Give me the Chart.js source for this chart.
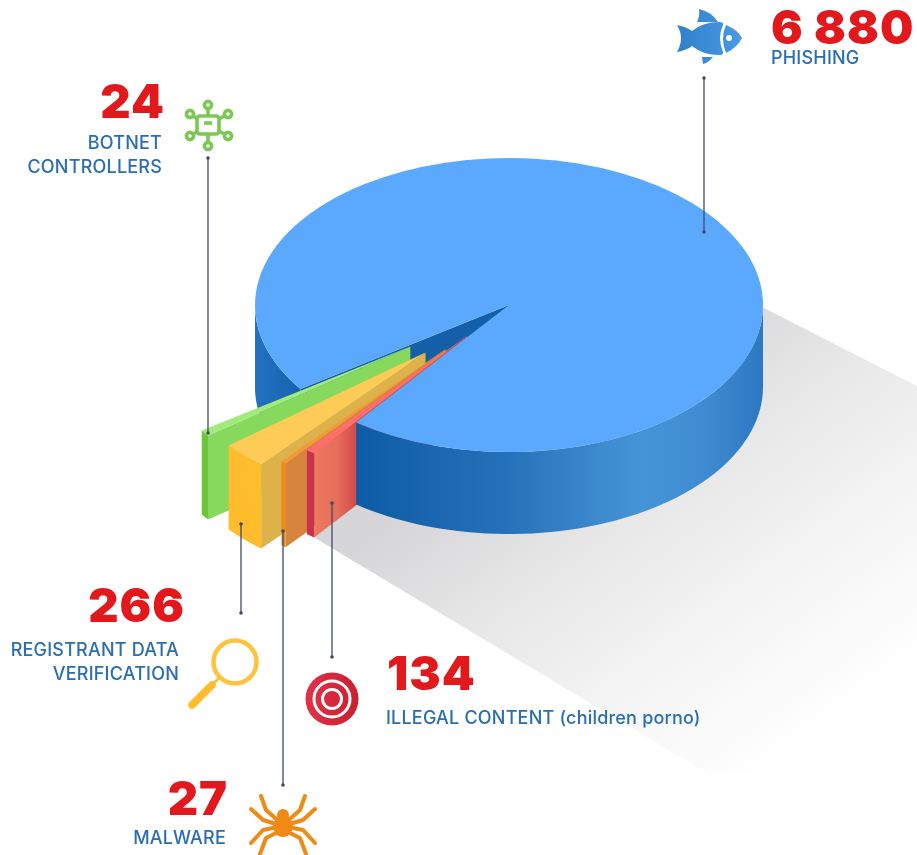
<!DOCTYPE html>
<html>
<head>
<meta charset="utf-8">
<title>Abuse reports</title>
<script src="https://cdn.jsdelivr.net/npm/chart.js@4/dist/chart.umd.js"></script>
<style>
    html, body { margin: 0; padding: 0; background: #fff; }
    canvas { display: block; }
</style>
</head>
<body>
<canvas id="pie" width="917" height="855"></canvas>
<script>
// Numbers printed in the picture
const categories = ['PHISHING', 'ILLEGAL CONTENT (children porno)', 'MALWARE', 'REGISTRANT DATA VERIFICATION', 'BOTNET CONTROLLERS'];
const counts = [6880, 134, 27, 266, 24];
const countLabels = ['6 880', '134', '27', '266', '24'];

// Slices as they are drawn: the wedges are not to scale, so sweeps are read off the picture (degrees)
const sliceNames = ['phishing', 'illegal', 'malware', 'registrant', 'gap', 'botnet'];
const sliceSweep = [341.8, 2.1, 1.2, 10.5, 2.0, 2.4];
const sliceLift = [0, 68, 99, 117, 0, 122];
const topColors = ['#5aa9ff', '#ff6d6d', '#f39a36', '#ffcb57', 'rgba(0,0,0,0)', '#a2ea7a'];

// Look of the tilted pie
const CX = 509, CY = 305, R = 254, TILT = 0.579, DEPTH = 82, WEDGE_DEPTH = 84;

// point on the tilted plane
function topPoint(x, y, r, angle) {
    return [x + r * Math.cos(angle), y + r * Math.sin(angle) * TILT];
}

// Wall under a piece of outer rim
function rimWall(ctx, x, y, a0, a1, fill, depth) {
    ctx.beginPath();
    const steps = 60;
    for (let i = 0; i <= steps; i++) {
        const p = topPoint(x, y, R, a0 + (a1 - a0) * i / steps);
        if (i === 0) ctx.moveTo(p[0], p[1]); else ctx.lineTo(p[0], p[1]);
    }
    for (let i = steps; i >= 0; i--) {
        const p = topPoint(x, y, R, a0 + (a1 - a0) * i / steps);
        ctx.lineTo(p[0], p[1] + depth);
    }
    ctx.closePath();
    ctx.fillStyle = fill;
    ctx.fill();
}

// Wall under the straight edge from the apex to the rim
function edgeWall(ctx, x, y, angle, fill, depth) {
    const p = topPoint(x, y, R, angle);
    ctx.beginPath();
    ctx.moveTo(x, y);
    ctx.lineTo(p[0], p[1]);
    ctx.lineTo(p[0], p[1] + depth);
    ctx.lineTo(x, y + depth);
    ctx.closePath();
    ctx.fillStyle = fill;
    ctx.fill();
}

function hGradient(ctx, x0, x1, stops) {
    const g = ctx.createLinearGradient(x0, 0, x1, 0);
    stops.forEach(s => g.addColorStop(s[0], s[1]));
    return g;
}

function drawShadow(ctx) {
    const g = ctx.createLinearGradient(560, 400, 840, 780);
    g.addColorStop(0, '#d6d6d8');
    g.addColorStop(0.3, '#e8e8e9');
    g.addColorStop(0.6, '#f5f5f6');
    g.addColorStop(0.9, '#ffffff');
    ctx.beginPath();
    ctx.moveTo(760, 306);
    ctx.lineTo(917, 386);
    ctx.lineTo(917, 770);
    ctx.lineTo(710, 775);
    ctx.lineTo(310, 535);
    ctx.lineTo(360, 500);
    ctx.closePath();
    ctx.fillStyle = g;
    ctx.fill();
}

// Extrusion of the pie, taken from the arcs the library laid out
const wallsPlugin = {
    id: 'walls',
    afterDatasetsUpdate(chart) {
        // pull the wedges out along their middle. The offset option would also narrow thin slices
        chart.getDatasetMeta(0).data.forEach((arc, i) => {
            const mid = (arc.startAngle + arc.endAngle) / 2;
            arc.x += sliceLift[i] * Math.cos(mid);
            arc.y += sliceLift[i] * Math.sin(mid);
        });
    },
    beforeDatasetsDraw(chart) {
        const ctx = chart.ctx;
        const arcs = chart.getDatasetMeta(0).data;
        drawShadow(ctx);

        const x = arcs[0].x;
        // left rim and inside of the notch
        const blueStart = arcs[0].startAngle;
        rimWall(ctx, x, CY, blueStart, Math.PI, hGradient(ctx, 255, 305, [[0, '#2272c2'], [1, '#1561ab']]), DEPTH);
        edgeWall(ctx, x, CY, blueStart, '#155fa9', DEPTH);

        const wallColors = {
            botnet: ['#6cc537', '#86d95c'],
            registrant: ['#ffbc2c', '#ddb24a'],
            malware: ['#f08a1e', '#d6843e'],
            illegal: ['#c8334a', hGradient(ctx, 313, 357, [[0, '#ee7a60'], [0.55, '#e66e5a'], [1, '#d0484c']])]
        };
        ['botnet', 'registrant', 'malware', 'illegal'].forEach(name => {
            const a = arcs[sliceNames.indexOf(name)];
            const apexY = CY + (a.y - CY) * TILT;
            edgeWall(ctx, a.x, apexY, a.startAngle, wallColors[name][1], WEDGE_DEPTH);
            rimWall(ctx, a.x, apexY, a.startAngle, a.endAngle, wallColors[name][0], WEDGE_DEPTH);
        });

        // front of the cylinder goes over the wedge walls
        rimWall(ctx, x, CY, 0, arcs[1].startAngle - Math.PI * 2, hGradient(ctx, 357, 763, [
            [0, '#0e5ba6'], [0.35, '#2470b8'], [0.7, '#4694d8'], [0.85, '#3f8cd2'], [1, '#2c79c2']
        ]), DEPTH);

        // squash the slices onto the tilted plane
        ctx.save();
        ctx.translate(0, CY);
        ctx.scale(1, TILT);
        ctx.translate(0, -CY);
    },
    afterDatasetsDraw(chart) {
        chart.ctx.restore();
    }
};

// Callouts
const leaderLines = [
    [704, 78, 232],
    [208, 158, 433],
    [241, 524, 613],
    [283, 531, 785],
    [332, 503, 657]
];
const numberLabels = [
    [countLabels[0], 771, 44, 'left'],
    [countLabels[4], 165, 118, 'right'],
    [countLabels[3], 185, 622, 'right'],
    [countLabels[2], 228, 815, 'right'],
    [countLabels[1], 387, 690, 'left']
];
const captionLabels = [
    ['PHISHING', 771, 64, 'left'],
    ['BOTNET', 162, 149, 'right'],
    ['CONTROLLERS', 162, 173, 'right'],
    ['REGISTRANT DATA', 179, 656, 'right'],
    ['VERIFICATION', 179, 680, 'right'],
    ['MALWARE', 226, 844, 'right'],
    ['ILLEGAL CONTENT (children porno)', 386, 724, 'left']
];

function drawFish(ctx) {
    const g = ctx.createLinearGradient(677, 0, 742, 0);
    g.addColorStop(0, '#2f7fcb');
    g.addColorStop(1, '#4a9be2');
    ctx.fillStyle = g;
    // tail and body
    ctx.beginPath();
    ctx.moveTo(677, 25);
    ctx.quadraticCurveTo(687, 27, 692, 31);
    ctx.quadraticCurveTo(703, 22, 719, 22);
    ctx.quadraticCurveTo(724, 22, 723, 25);
    ctx.quadraticCurveTo(717, 38, 723, 52);
    ctx.quadraticCurveTo(724, 55, 719, 55);
    ctx.quadraticCurveTo(703, 55, 692, 46);
    ctx.quadraticCurveTo(687, 50, 677, 52);
    ctx.quadraticCurveTo(685, 38, 677, 25);
    ctx.fill();
    // head
    ctx.beginPath();
    ctx.moveTo(726, 25);
    ctx.quadraticCurveTo(738, 30, 742, 38);
    ctx.quadraticCurveTo(738, 47, 726, 53);
    ctx.quadraticCurveTo(720, 38, 726, 25);
    ctx.fill();
    // fins
    ctx.beginPath();
    ctx.moveTo(699, 9);
    ctx.quadraticCurveTo(712, 12, 718, 22);
    ctx.lineTo(697, 22);
    ctx.quadraticCurveTo(700, 16, 699, 9);
    ctx.fill();
    ctx.beginPath();
    ctx.moveTo(702, 57);
    ctx.lineTo(713, 57);
    ctx.quadraticCurveTo(708, 63, 703, 64);
    ctx.closePath();
    ctx.fill();
    ctx.beginPath();
    ctx.arc(729, 38, 3, 0, Math.PI * 2);
    ctx.fillStyle = '#fff';
    ctx.fill();
}

function drawChip(ctx) {
    const x = 208, y = 125;
    ctx.strokeStyle = '#7cc855';
    ctx.lineWidth = 3.6;
    const nodes = [[0, -20], [0, 21], [-18, -11], [20, -11], [-18, 11], [20, 11]];
    nodes.forEach(n => {
        ctx.beginPath();
        ctx.moveTo(x, y);
        ctx.lineTo(x + n[0], y + n[1]);
        ctx.stroke();
    });
    ctx.fillStyle = '#fff';
    ctx.beginPath();
    ctx.roundRect(x - 11, y - 9, 22, 18, 3);
    ctx.fill();
    ctx.stroke();
    ctx.beginPath();
    ctx.moveTo(x - 4, y - 2);
    ctx.lineTo(x + 4, y - 2);
    ctx.stroke();
    nodes.forEach(n => {
        ctx.beginPath();
        ctx.arc(x + n[0], y + n[1], 3.6, 0, Math.PI * 2);
        ctx.fillStyle = '#fff';
        ctx.fill();
        ctx.stroke();
    });
}

function drawMagnifier(ctx) {
    ctx.strokeStyle = '#fcc43e';
    ctx.lineWidth = 4.5;
    ctx.beginPath();
    ctx.arc(235, 662, 21.5, 0, Math.PI * 2);
    ctx.stroke();
    ctx.lineWidth = 3;
    ctx.beginPath();
    ctx.moveTo(219, 678);
    ctx.lineTo(212, 685);
    ctx.stroke();
    ctx.lineCap = 'round';
    ctx.strokeStyle = '#ffbc2c';
    ctx.lineWidth = 7.5;
    ctx.beginPath();
    ctx.moveTo(212, 685);
    ctx.lineTo(192, 705);
    ctx.stroke();
    ctx.lineCap = 'butt';
}

function drawTarget(ctx) {
    const x = 332, y = 699;
    const g = ctx.createLinearGradient(x - 26, 0, x + 26, 0);
    g.addColorStop(0, '#e53048');
    g.addColorStop(1, '#c9202f');
    ctx.fillStyle = g;
    ctx.beginPath();
    ctx.arc(x, y, 26.5, 0, Math.PI * 2);
    ctx.fill();
    ctx.strokeStyle = '#fff';
    ctx.lineWidth = 3;
    [18, 9.5].forEach(r => {
        ctx.beginPath();
        ctx.arc(x, y, r, 0, Math.PI * 2);
        ctx.stroke();
    });
}

function drawSpider(ctx) {
    const x = 283;
    ctx.strokeStyle = '#f08a14';
    ctx.fillStyle = '#f08a14';
    ctx.lineWidth = 4;
    ctx.lineCap = 'round';
    ctx.lineJoin = 'round';
    const legs = [
        [[-8, 818], [-17, 810], [-22, 796]],
        [[-10, 823], [-20, 820], [-32, 809]],
        [[-10, 828], [-20, 830], [-32, 843]],
        [[-7, 833], [-17, 838], [-23, 854]]
    ];
    [-1, 1].forEach(side => {
        legs.forEach(leg => {
            ctx.beginPath();
            leg.forEach((p, i) => {
                const px = x - side * p[0];
                if (i === 0) ctx.moveTo(px, p[1]); else ctx.lineTo(px, p[1]);
            });
            ctx.stroke();
        });
    });
    ctx.beginPath();
    ctx.ellipse(x, 826, 10, 11, 0, 0, Math.PI * 2);
    ctx.fill();
    ctx.beginPath();
    ctx.arc(x, 815, 6, 0, Math.PI * 2);
    ctx.fill();
    ctx.lineCap = 'butt';
}

const calloutsPlugin = {
    id: 'callouts',
    afterDraw(chart) {
        const ctx = chart.ctx;
        ctx.save();
        leaderLines.forEach(l => {
            ctx.strokeStyle = '#414b68';
            ctx.lineWidth = 1.3;
            ctx.beginPath();
            ctx.moveTo(l[0], l[1]);
            ctx.lineTo(l[0], l[2]);
            ctx.stroke();
            ctx.fillStyle = '#414b68';
            [l[1], l[2]].forEach(y => {
                ctx.beginPath();
                ctx.arc(l[0], y, 1.8, 0, Math.PI * 2);
                ctx.fill();
            });
        });
        drawFish(ctx);
        drawChip(ctx);
        drawMagnifier(ctx);
        drawTarget(ctx);
        drawSpider(ctx);

        ctx.textBaseline = 'alphabetic';
        ctx.fillStyle = '#e3181c';
        ctx.font = '900 47px Inter, Roboto, sans-serif';
        ctx.letterSpacing = '1px';
        numberLabels.forEach(t => {
            ctx.textAlign = t[3];
            ctx.fillText(t[0], t[1], t[2]);
        });
        ctx.fillStyle = '#2a6db0';
        ctx.font = '500 18px Inter, Roboto, sans-serif';
        ctx.letterSpacing = '0.2px';
        captionLabels.forEach(t => {
            ctx.textAlign = t[3];
            ctx.fillText(t[0], t[1], t[2]);
        });
        ctx.restore();
    }
};

const chart = new Chart(document.getElementById('pie'), {
    type: 'pie',
    data: {
        labels: sliceNames,
        datasets: [{
            data: sliceSweep,
            backgroundColor: topColors,
            borderWidth: 0,
            radius: R,
            clip: false
        }]
    },
    options: {
        responsive: false,
        animation: false,
        events: [],
        rotation: 145.2 + 90,
        layout: { padding: { left: CX - R, right: 917 - CX - R, top: CY - R, bottom: 855 - CY - R } },
        plugins: { legend: { display: false }, tooltip: { enabled: false } }
    },
    plugins: [wallsPlugin, calloutsPlugin]
});
</script>
</body>
</html>
